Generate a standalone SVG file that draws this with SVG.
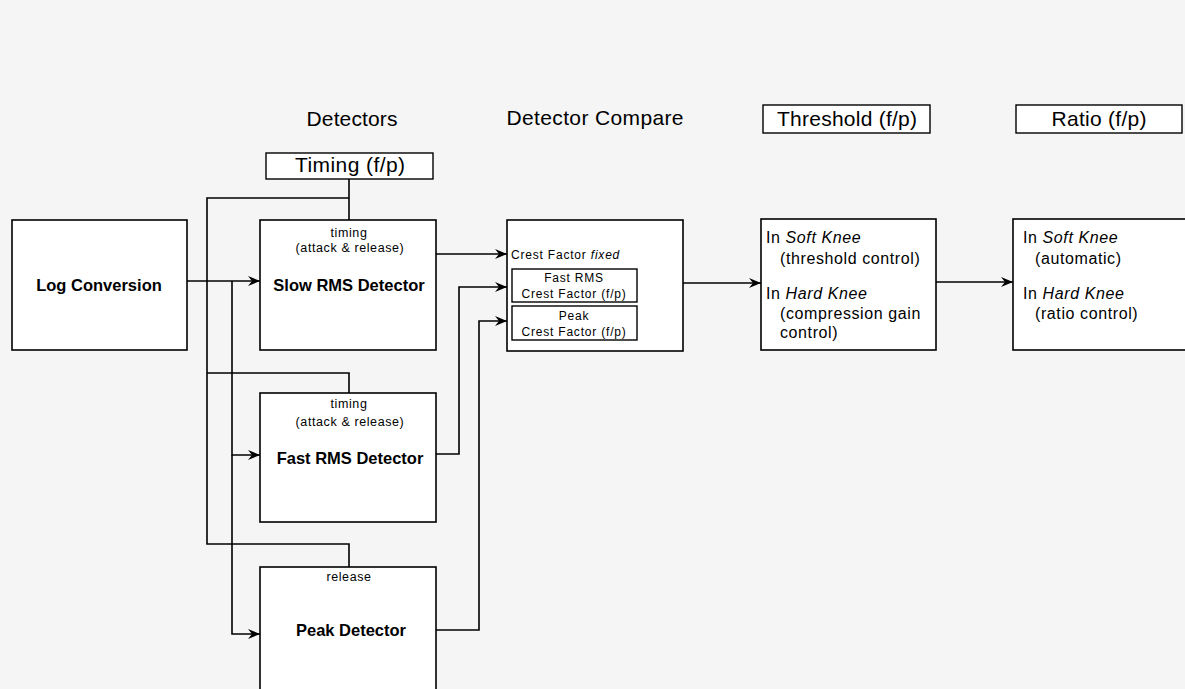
<svg xmlns="http://www.w3.org/2000/svg" width="1185" height="689" viewBox="0 0 1185 689">
<defs>
<style>
text{font-family:"Liberation Sans",Arial,sans-serif;fill:#000}
.box{fill:#fff;stroke:#000;stroke-width:1.6}
.lbl{fill:#fff;stroke:#000;stroke-width:1.4}
.hdr{font-size:21px}
.bold{font-size:16.5px;font-weight:bold}
.sm{font-size:12.5px;letter-spacing:0.6px}
.xs{font-size:12px;letter-spacing:0.8px}
.md{font-size:16px;letter-spacing:0.6px}
.c{text-anchor:middle}
.it{font-style:italic}
.ln{fill:none;stroke:#000;stroke-width:1.6}
</style>
<marker id="ar" markerUnits="userSpaceOnUse" markerWidth="14" markerHeight="12" refX="12" refY="5" orient="auto">
<path d="M0,0 L12,5 L0,10 L4,5 z" fill="#000"/>
</marker>
</defs>
<rect width="1185" height="689" fill="#f5f5f5"/>

<g id="headers">
<text class="hdr c" x="352" y="126" textLength="91">Detectors</text>
<text class="hdr c" x="595" y="125" textLength="177">Detector Compare</text>
</g>

<g id="timing">
<rect class="lbl" x="266" y="153" width="167" height="26"/>
<text class="hdr c" x="350" y="172" textLength="110">Timing (f/p)</text>
</g>

<g id="threshold-fp">
<rect class="lbl" x="763" y="105" width="167" height="28"/>
<text class="hdr c" x="847" y="126" textLength="140">Threshold (f/p)</text>
</g>

<g id="ratio-fp">
<rect class="lbl" x="1016" y="105" width="166" height="28"/>
<text class="hdr c" x="1099" y="126" textLength="95">Ratio (f/p)</text>
</g>

<g id="log-conversion">
<rect class="box" x="12" y="220" width="175" height="130"/>
<text class="bold c" x="99" y="291">Log Conversion</text>
</g>

<g id="slow-rms">
<rect class="box" x="260" y="220" width="176" height="130"/>
<text class="sm c" x="349" y="237">timing</text>
<text class="sm c" x="350" y="252">(attack &amp; release)</text>
<text class="bold c" x="349" y="291">Slow RMS Detector</text>
</g>

<g id="fast-rms">
<rect class="box" x="260" y="393" width="176" height="129"/>
<text class="sm c" x="349" y="408">timing</text>
<text class="sm c" x="350" y="426">(attack &amp; release)</text>
<text class="bold c" x="350" y="464">Fast RMS Detector</text>
</g>

<g id="peak">
<rect class="box" x="260" y="567" width="176" height="130"/>
<text class="sm c" x="349" y="581">release</text>
<text class="bold c" x="351" y="636">Peak Detector</text>
</g>

<g id="detector-compare">
<rect class="box" x="507" y="220" width="176" height="131"/>
<text class="xs" x="511" y="259">Crest Factor <tspan class="it">fixed</tspan></text>
<rect class="lbl" x="512" y="269" width="125" height="33"/>
<text class="xs c" x="574" y="282">Fast RMS</text>
<text class="xs c" x="574" y="298">Crest Factor (f/p)</text>
<rect class="lbl" x="512" y="306" width="125" height="34"/>
<text class="xs c" x="574" y="320">Peak</text>
<text class="xs c" x="574" y="336">Crest Factor (f/p)</text>
</g>

<g id="threshold">
<rect class="box" x="761" y="219" width="175" height="131"/>
<text class="md" x="766" y="243">In <tspan class="it">Soft Knee</tspan></text>
<text class="md" x="780" y="264">(threshold control)</text>
<text class="md" x="766" y="299">In <tspan class="it">Hard Knee</tspan></text>
<text class="md" x="780" y="319">(compression gain</text>
<text class="md" x="780" y="338">control)</text>
</g>

<g id="ratio">
<rect class="box" x="1013" y="219" width="175" height="131"/>
<text class="md" x="1023" y="243">In <tspan class="it">Soft Knee</tspan></text>
<text class="md" x="1035" y="264">(automatic)</text>
<text class="md" x="1023" y="299">In <tspan class="it">Hard Knee</tspan></text>
<text class="md" x="1035" y="319">(ratio control)</text>
</g>

<g id="connectors">
<path class="ln" d="M349,179 V220"/>
<path class="ln" d="M349,198 H207 V544 H349 V567"/>
<path class="ln" d="M207,373 H349 V393"/>
<path class="ln" d="M187,281 H260" marker-end="url(#ar)"/>
<path class="ln" d="M232,281 V455 H260" marker-end="url(#ar)"/>
<path class="ln" d="M232,455 V634 H260" marker-end="url(#ar)"/>
<path class="ln" d="M436,254 H507" marker-end="url(#ar)"/>
<path class="ln" d="M436,454 H459 V287 H507" marker-end="url(#ar)"/>
<path class="ln" d="M436,630 H479 V321 H507" marker-end="url(#ar)"/>
<path class="ln" d="M683,283 H761" marker-end="url(#ar)"/>
<path class="ln" d="M936,282 H1013" marker-end="url(#ar)"/>
</g>
</svg>
